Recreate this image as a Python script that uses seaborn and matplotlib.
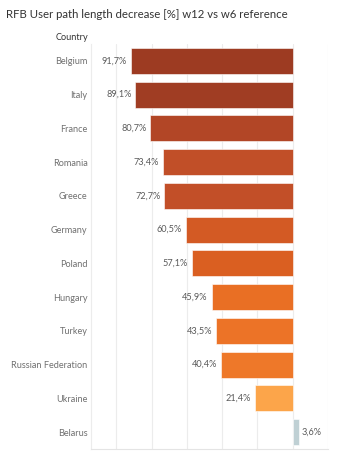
import matplotlib
matplotlib.use("Agg")
import matplotlib.pyplot as plt
import seaborn as sns
import pandas as pd

countries = ["Belgium", "Italy", "France", "Romania", "Greece", "Germany", "Poland",
             "Hungary", "Turkey", "Russian Federation", "Ukraine", "Belarus"]
decrease_pct = [91.7, 89.1, 80.7, 73.4, 72.7, 60.5, 57.1, 45.9, 43.5, 40.4, 21.4, -3.6]

bar_colors = ["#9d3b22", "#a03d23", "#b24626", "#c14f28", "#c24f28", "#d35a24",
              "#da5f21", "#e96f24", "#ec7327", "#ee7829", "#fca54a", "#bfd0d4"]

sns.set_theme(style="white")
plt.rcParams['font.family'] = ['Lato', 'DejaVu Sans']

df = pd.DataFrame({"Country": countries, "Value": decrease_pct})

fig = plt.figure(figsize=(3.39, 4.62), dpi=100)
ax = fig.add_axes([91/339, 1 - 449/462, (328 - 91)/339, (449 - 44)/462])

sns.barplot(data=df, y="Country", x="Value", hue="Country", palette=bar_colors,
            legend=False, width=0.77, ax=ax, edgecolor="#ffffff", linewidth=0.4,
            saturation=1)

ax.set_xlim(114.3, -20)
ax.set_xticks([100, 80, 60, 40, 20, 0, -20])
ax.xaxis.grid(True, color="#ececec", linewidth=0.8)
ax.set_axisbelow(True)
ax.tick_params(axis="x", length=0, labelbottom=False)
ax.tick_params(axis="y", length=0, pad=2.5, labelsize=6.6, labelcolor="#707070")
ax.set_xlabel("")
ax.set_ylabel("")
for s in ["top", "right"]:
    ax.spines[s].set_visible(False)
ax.spines["left"].set_color("#ececec")
ax.spines["bottom"].set_color("#e4e4e4")
ax.spines["left"].set_linewidth(0.8)
ax.spines["bottom"].set_linewidth(0.8)

for i, v in enumerate(decrease_pct):
    lab = f"{abs(v):.1f}%".replace(".", ",")
    if v >= 0:
        ax.text(v + 2.2, i, lab, ha="right", va="center", fontsize=6.6, color="#5a5a5a")
    else:
        ax.text(v - 1.5, i, lab, ha="left", va="center", fontsize=6.6, color="#5a5a5a")

fig.text(88/339, 1 - 37/462, "Country", ha="right", va="center", fontsize=6.6, color="#333333")
fig.text(6/339, 1 - 15/462, "RFB User path length decrease [%] w12 vs w6 reference",
         ha="left", va="center", fontsize=8.2, color="#333333")

fig.savefig("out.png", dpi=100)
